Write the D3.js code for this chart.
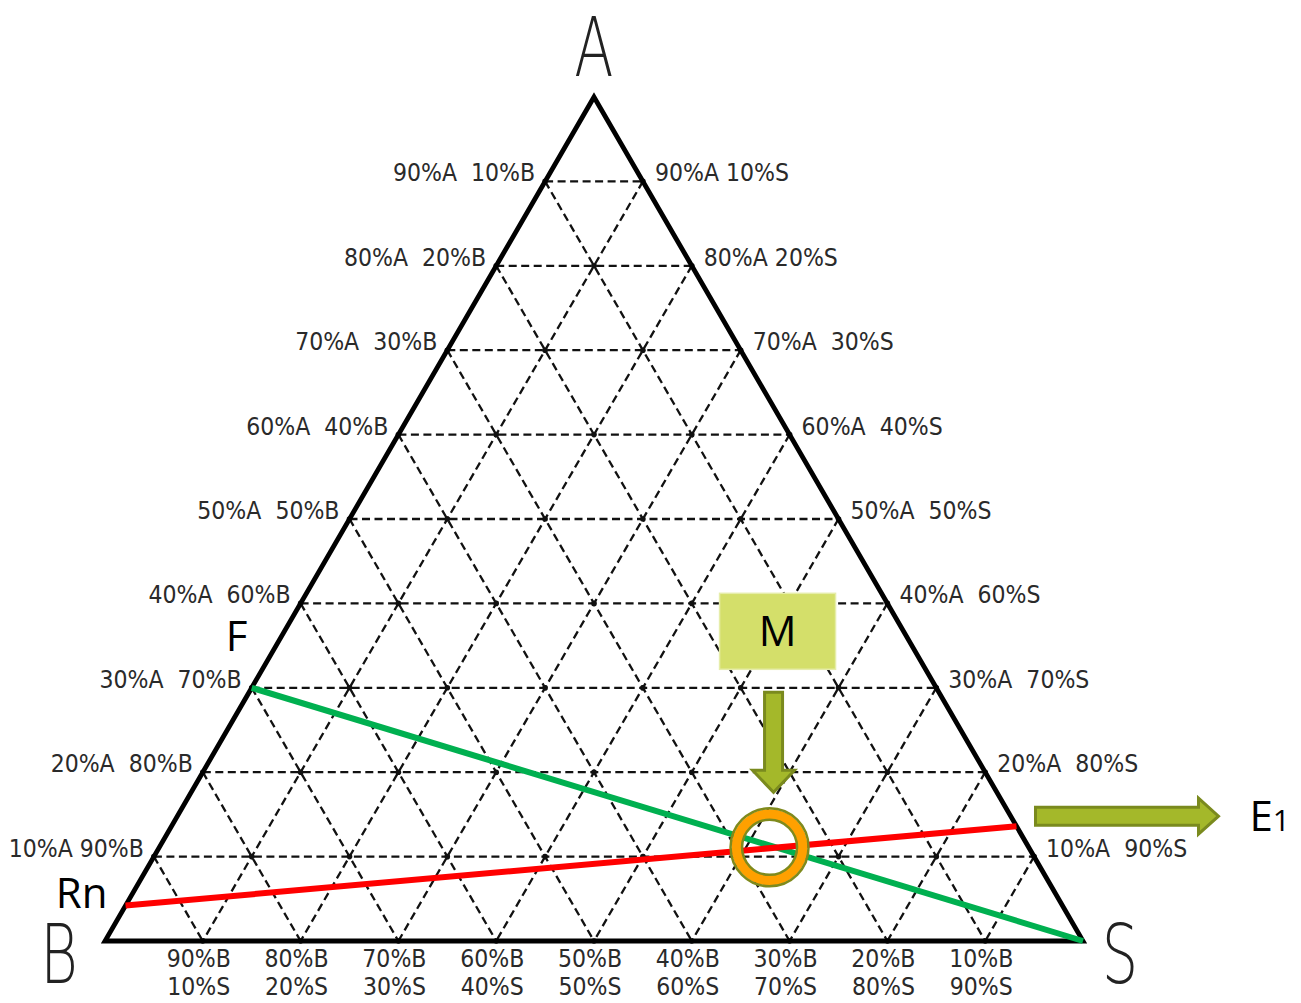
<!DOCTYPE html>
<html>
<head>
<meta charset="utf-8">
<script src="https://cdn.jsdelivr.net/npm/d3@7"></script>
<style>
  html, body { margin: 0; padding: 0; background: #fff; }
  svg { display: block; }
  .tick-label { font-family: "Liberation Sans Narrow", "DejaVu Sans Condensed", sans-serif; font-size: 24.5px; fill: #2a2a2a; white-space: pre; }
  .vertex { font-family: "DejaVu Sans", sans-serif; font-weight: 200; font-size: 82px; fill: #222; }
  .anno { font-family: "Open Sans", Lato, sans-serif; font-size: 42px; fill: #000; }
</style>
</head>
<body>
<svg id="chart" width="1301" height="1003"></svg>
<script>
// ---------- data ----------
const vertices = ["A", "B", "S"];
const gridLevels = [0.1, 0.2, 0.3, 0.4, 0.5, 0.6, 0.7, 0.8, 0.9];
const leftLabels = ["10%A 90%B", "20%A  80%B", "30%A  70%B", "40%A  60%B", "50%A  50%B",
                    "60%A  40%B", "70%A  30%B", "80%A  20%B", "90%A  10%B"];
const rightLabels = ["10%A  90%S", "20%A  80%S", "30%A  70%S", "40%A  60%S", "50%A  50%S",
                     "60%A  40%S", "70%A  30%S", "80%A 20%S", "90%A 10%S"];
const bottomLabelsB = ["90%B", "80%B", "70%B", "60%B", "50%B", "40%B", "30%B", "20%B", "10%B"];
const bottomLabelsS = ["10%S", "20%S", "30%S", "40%S", "50%S", "60%S", "70%S", "80%S", "90%S"];
// ternary points (a, b, s)
const pointF  = { name: "F",  a: 0.30,  b: 0.70,  s: 0.00 };
const pointS  = { name: "S",  a: 0.00,  b: 0.00,  s: 1.00 };
const pointRn = { name: "Rn", a: 0.042, b: 0.958, s: 0.00 };
const pointE1 = { name: "E1", a: 0.136, b: 0.00,  s: 0.864 };
const pointM  = { name: "M",  a: 0.111, b: 0.265, s: 0.624 };
const greenLine = [pointF, pointS];
const redLine = [pointRn, pointE1];

// ---------- scales ----------
const xScale = d3.scaleLinear().domain([0, 1]).range([105, 1083]);
const yScale = d3.scaleLinear().domain([0, 1]).range([941, 97]);
const px = p => xScale(p.s + p.a / 2);
const py = p => yScale(p.a);
const T = (a, b, s) => ({ a, b, s });

const svg = d3.select("#chart");
const line = d3.line().x(px).y(py);

// ---------- grid ----------
const grid = svg.append("g").attr("stroke", "#111").attr("stroke-width", 2.3)
  .attr("stroke-dasharray", "8,4.5").attr("fill", "none");
gridLevels.forEach(v => {
  grid.append("path").attr("d", line([T(v, 1 - v, 0), T(v, 0, 1 - v)]));
  grid.append("path").attr("d", line([T(1 - v, v, 0), T(0, v, 1 - v)]));
  grid.append("path").attr("d", line([T(1 - v, 0, v), T(0, 1 - v, v)]));
});
// lattice dots
const dots = [];
for (let i = 0; i <= 10; i++) for (let j = 0; j <= 10 - i; j++) {
  const k = 10 - i - j;
  if ((i === 10) || (j === 10) || (k === 10)) continue;
  dots.push(T(i / 10, j / 10, k / 10));
}
svg.append("g").selectAll("circle").data(dots).join("circle")
  .attr("cx", px).attr("cy", py).attr("r", 2.8).attr("fill", "#111");

// ---------- triangle ----------
svg.append("path")
  .attr("d", line([T(1, 0, 0), T(0, 1, 0), T(0, 0, 1)]) + "Z")
  .attr("fill", "none").attr("stroke", "#000").attr("stroke-width", 4.8)
  .attr("stroke-linejoin", "miter");

// ---------- tick labels ----------
svg.append("g").selectAll("text").data(gridLevels).join("text")
  .attr("class", "tick-label").attr("text-anchor", "end")
  .attr("x", v => px(T(v, 1 - v, 0)) - 10).attr("y", v => py(T(v, 1 - v, 0)))
  .text((v, i) => leftLabels[i]);
svg.append("g").selectAll("text").data(gridLevels).join("text")
  .attr("class", "tick-label").attr("text-anchor", "start")
  .attr("x", v => px(T(v, 0, 1 - v)) + 12).attr("y", v => py(T(v, 0, 1 - v)))
  .text((v, i) => rightLabels[i]);
const bottomG = svg.append("g").selectAll("g").data(gridLevels).join("g");
bottomG.append("text").attr("class", "tick-label").attr("text-anchor", "middle")
  .attr("x", v => px(T(0, 1 - v, v)) - 4).attr("y", 967)
  .text((v, i) => bottomLabelsB[i]);
bottomG.append("text").attr("class", "tick-label").attr("text-anchor", "middle")
  .attr("x", v => px(T(0, 1 - v, v)) - 4).attr("y", 995)
  .text((v, i) => bottomLabelsS[i]);

// ---------- vertex labels ----------
const vA = T(1, 0, 0), vB = T(0, 1, 0), vS = T(0, 0, 1);
const vertexPos = [
  { t: vertices[0], x: px(vA), y: py(vA) - 21 },
  { t: vertices[1], x: px(vB) - 46, y: py(vB) + 42 },
  { t: vertices[2], x: px(vS) + 37, y: py(vS) + 42 }
];
svg.append("g").selectAll("text").data(vertexPos).join("text")
  .attr("class", "vertex").attr("text-anchor", "middle")
  .attr("transform", d => `translate(${d.x},${d.y}) scale(0.7,1)`)
  .text(d => d.t);

// ---------- lines ----------
svg.append("path").attr("d", line(greenLine)).attr("stroke", "#00b050")
  .attr("stroke-width", 6).attr("fill", "none");
svg.append("path").attr("d", line(redLine)).attr("stroke", "#ff0000")
  .attr("stroke-width", 6).attr("fill", "none");

// ---------- ring at M ----------
const mx = px(pointM), my = py(pointM);
svg.append("circle").attr("cx", mx).attr("cy", my).attr("r", 33)
  .attr("fill", "none").attr("stroke", "#ffa000").attr("stroke-width", 10);
svg.append("circle").attr("cx", mx).attr("cy", my).attr("r", 39)
  .attr("fill", "none").attr("stroke", "#7f8a1c").attr("stroke-width", 2.5);
svg.append("circle").attr("cx", mx).attr("cy", my).attr("r", 27.5)
  .attr("fill", "none").attr("stroke", "#7f8a1c").attr("stroke-width", 2.5);

// ---------- M box and arrow ----------
const boxCx = mx + 8, boxCy = my - 216;
svg.append("rect").attr("x", boxCx - 58).attr("y", boxCy - 38).attr("width", 116).attr("height", 76)
  .attr("fill", "#d4df6a").attr("stroke", "#e6edaa").attr("stroke-width", 1.5);
svg.append("text").attr("class", "anno").attr("text-anchor", "middle")
  .attr("x", boxCx).attr("y", boxCy + 15).text(pointM.name);

function downArrow(cx, top, tip) {
  const p = d3.path();
  p.moveTo(cx - 9, top); p.lineTo(cx + 9, top); p.lineTo(cx + 9, tip - 22);
  p.lineTo(cx + 21, tip - 22); p.lineTo(cx, tip); p.lineTo(cx - 21, tip - 22);
  p.lineTo(cx - 9, tip - 22); p.closePath();
  return p.toString();
}
function rightArrow(left, cy, tip) {
  const p = d3.path();
  p.moveTo(left, cy - 9); p.lineTo(tip - 20, cy - 9); p.lineTo(tip - 20, cy - 18);
  p.lineTo(tip, cy); p.lineTo(tip - 20, cy + 18); p.lineTo(tip - 20, cy + 9);
  p.lineTo(left, cy + 9); p.closePath();
  return p.toString();
}
svg.append("path").attr("d", downArrow(mx + 4, boxCy + 61, my - 55))
  .attr("fill", "#a4b82a").attr("stroke", "#7a8a1e").attr("stroke-width", 3);

// ---------- E1 arrow ----------
const ex = px(pointE1), ey = py(pointE1);
svg.append("path").attr("d", rightArrow(ex + 19, ey - 10, ex + 202))
  .attr("fill", "#a4b82a").attr("stroke", "#7a8a1e").attr("stroke-width", 3);
const e1 = svg.append("text").attr("class", "anno").attr("x", ex + 233).attr("y", ey + 5);
e1.append("tspan").text("E");
e1.append("tspan").attr("font-size", "30px").text("1");

// ---------- point labels ----------
svg.append("text").attr("class", "anno").attr("text-anchor", "middle")
  .attr("x", px(pointF) - 15).attr("y", py(pointF) - 37).text(pointF.name);
svg.append("text").attr("class", "anno").attr("text-anchor", "end")
  .attr("x", px(pointRn) - 18).attr("y", py(pointRn) + 2).text(pointRn.name);
</script>
</body>
</html>
